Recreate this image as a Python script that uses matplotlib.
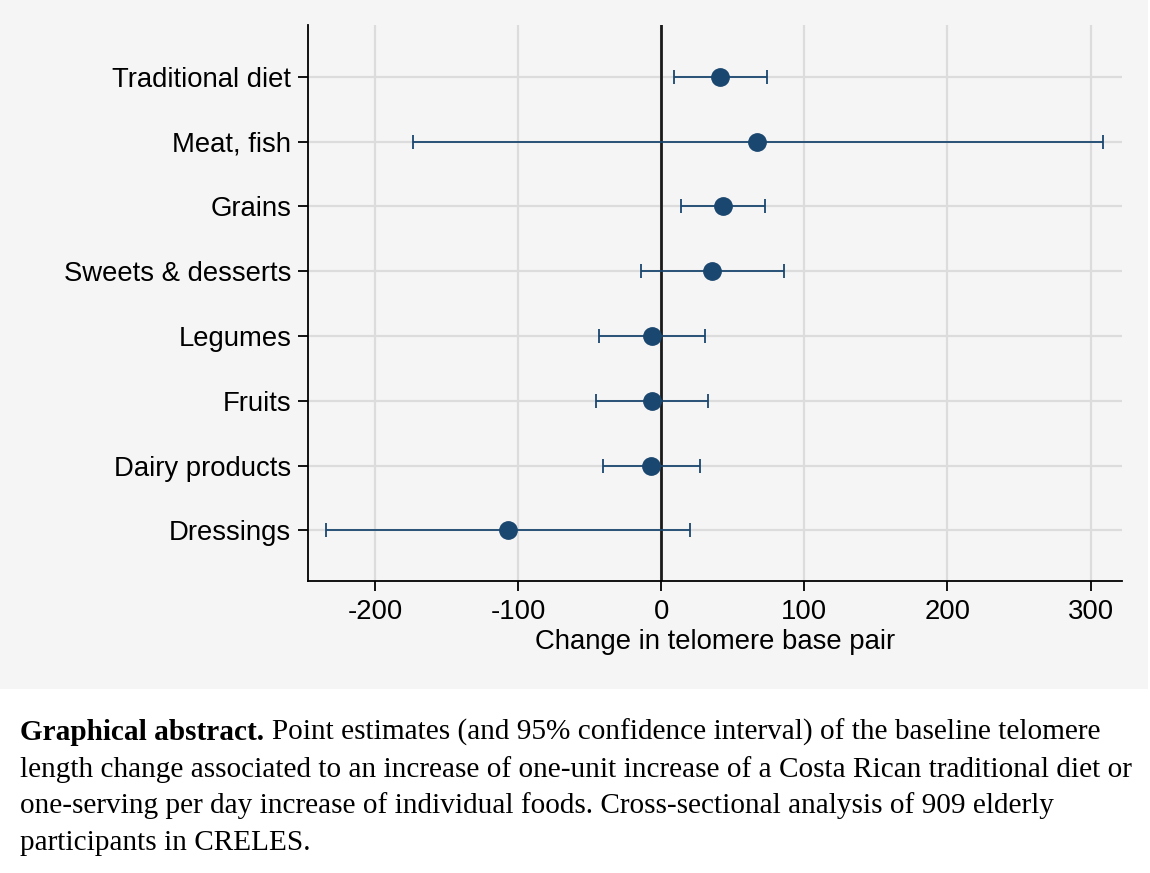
import numpy as np
import matplotlib
matplotlib.use("Agg")
import matplotlib.pyplot as plt
from matplotlib.patches import Rectangle

# data
foods = ["Traditional diet", "Meat, fish", "Grains", "Sweets & desserts",
         "Legumes", "Fruits", "Dairy products", "Dressings"]
estimate = [41.2, 67.0, 43.0, 35.6, -6.6, -6.6, -7.3, -107.3]
ci_low = [9.0, -173.7, 13.4, -14.5, -43.7, -45.5, -40.9, -234.2]
ci_high = [73.5, 308.4, 72.8, 85.9, 30.7, 32.3, 26.7, 19.7]
xticks = [-200, -100, 0, 100, 200, 300]

navy = "#1a476f"
grid_c = "#dcdcdc"
bg = "#f5f5f5"

plt.rcParams['font.family'] = ['Liberation Sans', 'DejaVu Sans']
plt.rcParams['axes.unicode_minus'] = False

fig = plt.figure(figsize=(11.5, 8.73), dpi=100)
fig.patch.set_facecolor("white")
fig.patches.append(Rectangle((0, 1 - 689 / 873), 1148 / 1150, 689 / 873,
                             transform=fig.transFigure, facecolor=bg,
                             edgecolor="none", zorder=-10))

ax = fig.add_axes([308 / 1150, 1 - 581 / 873, (1122 - 308) / 1150, (581 - 25) / 873])
ax.set_facecolor(bg)
ax.set_zorder(1)

y = np.arange(len(foods))
est = np.array(estimate)
err = [est - np.array(ci_low), np.array(ci_high) - est]

for yy in y:
    ax.axhline(yy, color=grid_c, lw=1.6, zorder=1)
for xx in xticks:
    ax.axvline(xx, color=grid_c, lw=1.6, zorder=1)
ax.axvline(0, color="#1a1a1a", lw=2.0, zorder=2)

ax.errorbar(est, y, xerr=err, fmt="o", color=navy, ms=12.5, elinewidth=1.3,
            capsize=5, capthick=1.3, zorder=3)

ax.set_xlim(-247, 322)
ax.set_ylim(len(foods) - 1 + 0.78, -0.8)
ax.set_yticks(y)
ax.set_yticklabels(foods)
ax.set_xticks(xticks)
ax.tick_params(axis="both", labelsize=19.8, length=7, width=1.3, color="black")
ax.tick_params(axis="y", pad=5)
ax.tick_params(axis="x", pad=6)
ax.set_xlabel("Change in telomere base pair", fontsize=19.8, labelpad=3)

for s in ["top", "right"]:
    ax.spines[s].set_visible(False)
for s in ["left", "bottom"]:
    ax.spines[s].set_linewidth(1.3)
    ax.spines[s].set_color("black")

caption = [
    "Point estimates (and 95% confidence interval) of the baseline telomere",
    "length change associated to an increase of one-unit increase of a Costa Rican traditional diet or",
    "one-serving per day increase of individual foods. Cross-sectional analysis of 909 elderly",
    "participants in CRELES.",
]
serif = ['Liberation Serif', 'DejaVu Serif']
fs = 21.1
line_h = 36.7
y0 = 740
t = fig.text(20 / 1150, 1 - y0 / 873, "Graphical abstract.", family=serif,
             weight="bold", fontsize=fs, va="baseline")
fig.canvas.draw()
bb = t.get_window_extent()
fig.text((bb.x1 + 8) / 1150, 1 - y0 / 873, caption[0], family=serif,
         fontsize=fs, va="baseline")
for i, line in enumerate(caption[1:], start=1):
    fig.text(20 / 1150, 1 - (y0 + i * line_h) / 873, line, family=serif,
             fontsize=fs, va="baseline")

fig.savefig("out.png", dpi=100, facecolor="white")
